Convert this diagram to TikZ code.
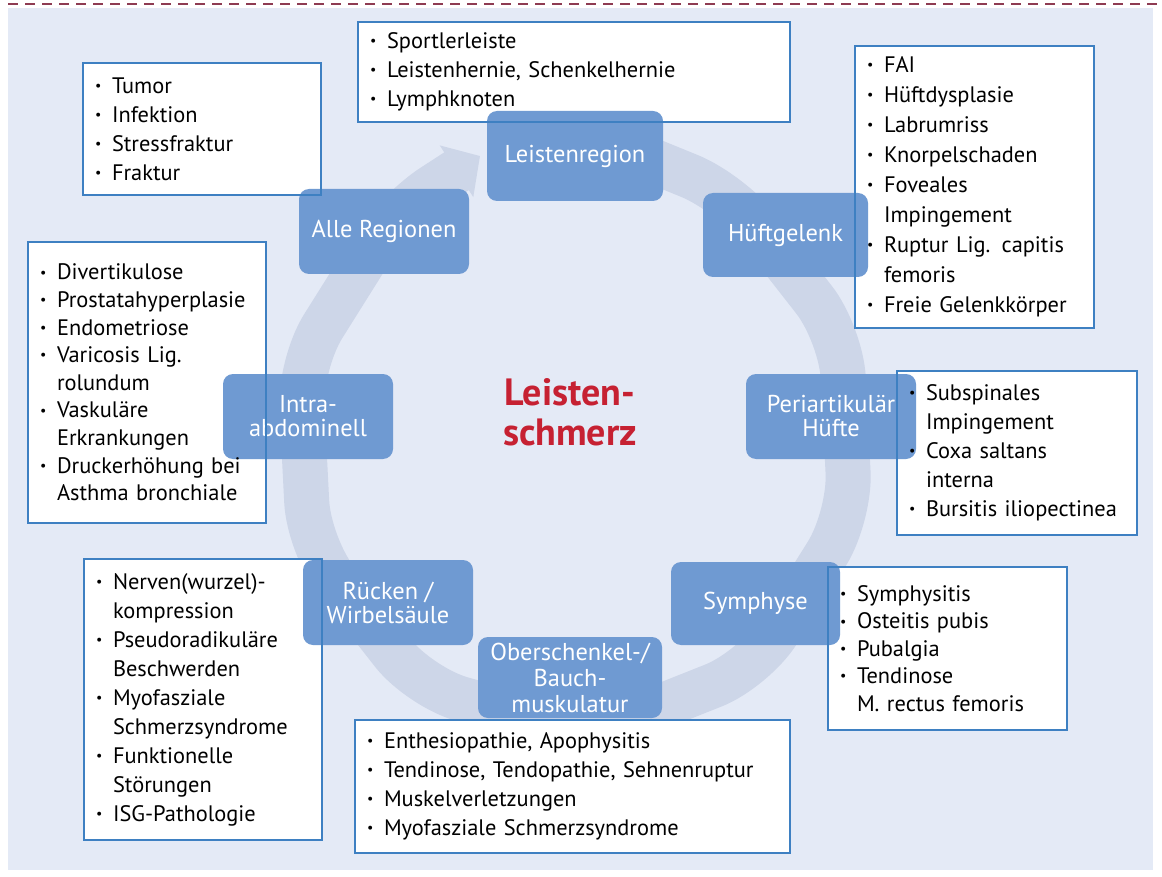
\documentclass[tikz,border=0pt]{standalone}
\usepackage{fontspec}
\setmainfont{PT Sans}
\usetikzlibrary{arrows.meta,backgrounds}
\definecolor{lsbg}{HTML}{E4EAF6}
\definecolor{lsring}{HTML}{CDD6E8}
\definecolor{lsblue}{HTML}{6F9AD2}
\definecolor{lsline}{HTML}{3E80C2}
\definecolor{lsred}{HTML}{C62132}
\definecolor{lsdash}{HTML}{8E3B52}
\hyphenpenalty=10000
\newcommand{\lsb}{\makebox[8.5pt][l]{\raisebox{0.25ex}{\scriptsize\textbullet}}}
\newcommand{\lsc}{\hspace*{8.5pt}}
\tikzset{
  reg/.style={fill=lsblue, rounded corners=5pt, align=center, text=white, font=\fontsize{12.2}{12}\selectfont, minimum width=85pt, minimum height=42.5pt, inner sep=2pt},
  lst/.style={draw=lsline, line width=0.6pt, align=left, font=\fontsize{11.2}{14.5}\selectfont, inner xsep=6pt, inner ysep=0pt},
  ring/.style={draw=lsring, line width=22.5pt, line join=round, rounded corners=22pt},
}
\begin{document}
\begin{tikzpicture}[x=0.5pt,y=-0.5pt]
  \useasboundingbox (0,0) rectangle (1162,877);
  % regions round the ring, lists beside them
  \node[reg, minimum width=88pt, minimum height=45pt] (reg) at (575,156) {Leistenregion};
  \node[reg] (alle) at (384,231.5) {Alle Regionen};
  \node[reg, minimum width=82.5pt, minimum height=42pt] (hueft) at (785.5,235) {Hüftgelenk};
  \node[reg] (peri) at (831,416.5) {Periartikulär\\Hüfte};
  \node[reg, minimum width=84.5pt, minimum height=41.5pt] (sym) at (755.5,603.5) {Symphyse};
  \node[reg, minimum width=92pt, minimum height=40.5pt, font=\fontsize{12.2}{13}\selectfont] (ober) at (570,677.5) {Oberschenkel-/\\Bauch-\\muskulatur};
  \node[reg] (ruck) at (388,602.5) {Rücken /\\Wirbelsäule};
  \node[reg] (intra) at (308,416.5) {Intra-\\abdominell};
  \node[font=\bfseries\fontsize{19}{20}\selectfont, text=lsred, align=center] (title) at (570,412) {Leisten-\\schmerz};

  \node[lst, text width=204pt, minimum height=50pt] (lreg) at (574,72)
    {\lsb Sportlerleiste\\\lsb Leistenhernie, Schenkelhernie\\\lsb Lymphknoten};
  \node[lst, text width=107pt, minimum height=66pt] (lalle) at (202,129)
    {\lsb Tumor\\\lsb Infektion\\\lsb Stressfraktur\\\lsb Fraktur};
  \node[lst, text width=107.5pt, minimum height=141pt, font=\fontsize{11.2}{15}\selectfont] (lhueft) at (974.5,187)
    {\lsb FAI\\\lsb Hüftdysplasie\\\lsb Labrumriss\\\lsb Knorpelschaden\\\lsb Foveales\\\lsc Impingement\\\lsb Ruptur Lig. capitis\\\lsc femoris\\\lsb Freie Gelenkkörper};
  \node[lst, text width=108pt, minimum height=82pt] (lperi) at (1017,453)
    {\lsb Subspinales\\\lsc Impingement\\\lsb Coxa saltans\\\lsc interna\\\lsb Bursitis iliopectinea};
  \node[lst, text width=107.5pt, minimum height=81.5pt, font=\fontsize{11.2}{13.7}\selectfont] (lsym) at (947.5,648.5)
    {\lsb Symphysitis\\\lsb Osteitis pubis\\\lsb Pubalgia\\\lsb Tendinose\\\lsc M. rectus femoris};
  \node[lst, text width=205.5pt, minimum height=66.5pt] (lober) at (572.5,786.5)
    {\lsb Enthesiopathie, Apophysitis\\\lsb Tendinose, Tendopathie, Sehnenruptur\\\lsb Muskelverletzungen\\\lsb Myofasziale Schmerzsyndrome};
  \node[lst, text width=107pt, minimum height=140.5pt] (lruck) at (203,699.5)
    {\lsb Nerven(wurzel)-\\\lsc kompression\\\lsb Pseudoradikuläre\\\lsc Beschwerden\\\lsb Myofasziale\\\lsc Schmerzsyndrome\\\lsb Funktionelle\\\lsc Störungen\\\lsb ISG-Pathologie};
  \node[lst, text width=107pt, minimum height=140.5pt, font=\fontsize{11.2}{13.8}\selectfont] (lintra) at (147,382.5)
    {\lsb Divertikulose\\\lsb Prostatahyperplasie\\\lsb Endometriose\\\lsb Varicosis Lig.\\\lsc rolundum\\\lsb Vaskuläre\\\lsc Erkrankungen\\\lsb Druckerhöhung bei\\\lsc Asthma bronchiale};

  \begin{scope}[on background layer]
    \fill[lsbg] (8,8) rectangle (1153,870);
    \draw[ring, -{Triangle[length=14pt,width=30pt]}] ({575+285*cos(80)},{440-295*sin(80)})
      \foreach \a in {57,21,-15,-51,-87,-123,-159,-195,-231} { -- ({575+285*cos(\a)},{440-295*sin(\a)}) } -- (480,156);
    \foreach \n in {lreg,lalle,lhueft,lperi,lsym,lober,lruck,lintra}
      \fill[white] (\n.south west) rectangle (\n.north east);
  \end{scope}
  \draw[lsdash, line width=0.8pt, dash pattern=on 5pt off 3.5pt] (8,4) -- (1162,4);
\end{tikzpicture}
\end{document}
